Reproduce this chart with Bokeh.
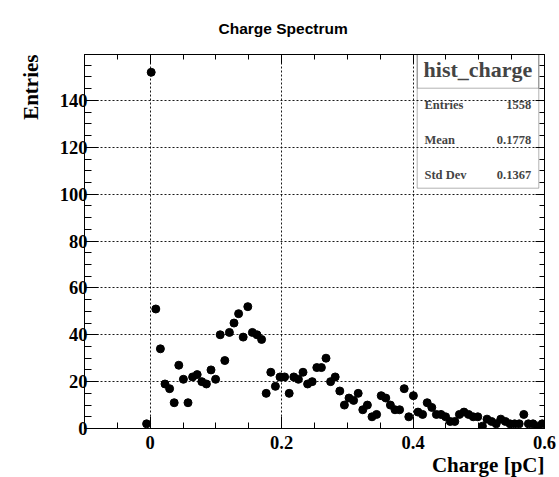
import numpy as np
from bokeh.plotting import figure
from bokeh.models import Label, BoxAnnotation, LinearAxis, FixedTicker, Range1d, Title
from bokeh.embed import file_html
from bokeh.resources import INLINE

# ---- data ----
HIST_LOW = -0.1
HIST_HIGH = 0.6
N_BINS = 100
# counts for bins 0..99 (first 13 bins empty)
counts = [0] * 13 + [
    2, 152, 51, 34, 19, 17, 11, 27, 21, 11,
    22, 23, 20, 19, 25, 21, 40, 29, 41, 45,
    49, 39, 52, 41, 40, 38, 15, 24, 18, 22,
    22, 15, 22, 21, 24, 19, 20, 26, 26, 30,
    20, 22, 16, 10, 13, 12, 15, 8, 10, 5,
    6, 14, 13, 10, 8, 8, 17, 5, 14, 7,
    6, 11, 9, 6, 6, 5, 3, 3, 6, 7,
    6, 5, 5, 1, 4, 3, 2, 4, 3, 2,
    2, 2, 6, 2, 2, 1, 2,
]
x_major = [0.0, 0.2, 0.4, 0.6]
x_minor = [-0.1, -0.05, 0.05, 0.1, 0.15, 0.25, 0.3, 0.35, 0.45, 0.5, 0.55]
y_major = [0, 20, 40, 60, 80, 100, 120, 140]
y_minor = [v for v in range(0, 160, 5) if v % 20 != 0]
title_text = "Charge Spectrum"
x_title = "Charge [pC]"
y_title = "Entries"
stats_name = "hist_charge"
stats_rows = [("Entries", "1558"), ("Mean", "0.1778"), ("Std Dev", "0.1367")]

edges = np.linspace(HIST_LOW, HIST_HIGH, N_BINS + 1)
centers = 0.5 * (edges[:-1] + edges[1:])
cnt = np.array(counts)
mask = cnt > 0
xs = centers[mask]
ys = cnt[mask]

SERIF = "Liberation Serif"
SANS = "Liberation Sans"

p = figure(frame_width=460, frame_height=374, output_backend="svg", toolbar_location=None,
           x_range=Range1d(HIST_LOW, HIST_HIGH), y_range=Range1d(0, max(counts) * 1.05),
           min_border_left=84, min_border_right=15, min_border_top=53, min_border_bottom=50)
p.background_fill_color = "white"
p.border_fill_color = "white"
p.outline_line_color = "black"
p.outline_line_width = 1

ticker_x = FixedTicker(ticks=x_major, minor_ticks=x_minor)
ticker_y = FixedTicker(ticks=y_major, minor_ticks=y_minor)

def style_axis(ax, ticker, labels=True, major_len=12, minor_len=6):
    ax.ticker = ticker
    ax.axis_line_color = "black"
    ax.axis_line_width = 1
    ax.major_tick_in = major_len
    ax.major_tick_out = 0
    ax.minor_tick_in = minor_len
    ax.minor_tick_out = 0
    ax.major_tick_line_color = "black"
    ax.minor_tick_line_color = "black"
    ax.major_tick_line_width = 1
    ax.minor_tick_line_width = 1
    ax.major_label_text_font = SERIF
    ax.major_label_text_font_style = "bold"
    ax.major_label_text_font_size = "18.5px"
    ax.major_label_text_color = "black"
    if not labels:
        ax.major_label_text_alpha = 0
        ax.major_label_text_font_size = "0px"
        ax.major_label_standoff = 0

style_axis(p.xaxis[0], ticker_x, major_len=12, minor_len=6)
style_axis(p.yaxis[0], ticker_y, major_len=14, minor_len=7)
p.xaxis[0].major_label_standoff = 7
p.yaxis[0].major_label_standoff = -3

# mirrored ticks on top / right (frame-like, as ROOT draws)
top_ax = LinearAxis()
style_axis(top_ax, ticker_x, labels=False, major_len=9, minor_len=5)
p.add_layout(top_ax, "above")
right_ax = LinearAxis()
style_axis(right_ax, ticker_y, labels=False, major_len=9, minor_len=5)
p.add_layout(right_ax, "right")

for g, tk in ((p.xgrid[0], ticker_x), (p.ygrid[0], ticker_y)):
    g.ticker = tk
    g.grid_line_color = "black"
    g.grid_line_dash = "2 2"
    g.grid_line_width = 1
    g.grid_line_alpha = 0.9

p.scatter(xs, ys, size=8, color="black", marker="circle")

# title and axis titles (as side-panel titles so they are not clipped)
p.add_layout(Title(text=title_text, align="left", offset=134, standoff=35,
                   text_font=SANS, text_font_style="bold", text_font_size="15.5px",
                   text_color="black"), "above")
p.add_layout(Title(text=y_title, align="right", standoff=28,
                   text_font=SERIF, text_font_style="bold", text_font_size="21px",
                   text_color="black"), "left")
p.add_layout(Title(text=x_title, align="right", standoff=-2,
                   text_font=SERIF, text_font_style="bold", text_font_size="21px",
                   text_color="black"), "below")

# stats box (frame-relative screen units)
box_l, box_r, box_b, box_t, box_sep = 332.7, 454.3, 240.3, 374, 340.3
p.add_layout(BoxAnnotation(left=box_l, right=box_r, bottom=box_b, top=box_t,
                           left_units="screen", right_units="screen",
                           bottom_units="screen", top_units="screen",
                           fill_alpha=0, line_color="black", line_width=1))
p.add_layout(BoxAnnotation(left=box_l, right=box_r, bottom=box_sep, top=box_t,
                           left_units="screen", right_units="screen",
                           bottom_units="screen", top_units="screen",
                           fill_alpha=0, line_color="black", line_width=1))
p.add_layout(Label(x=(box_l + box_r) / 2, y=358.7, x_units="screen", y_units="screen",
                   text=stats_name, text_font=SERIF, text_font_style="bold",
                   text_font_size="22px", text_align="center", text_baseline="middle"))
row_y = [323.7, 288.7, 253.7]
for (name, val), yy in zip(stats_rows, row_y):
    p.add_layout(Label(x=box_l + 7.3, y=yy, x_units="screen", y_units="screen", text=name,
                       text_font=SERIF, text_font_style="bold", text_font_size="12.5px",
                       text_align="left", text_baseline="middle"))
    p.add_layout(Label(x=box_r - 7.6, y=yy, x_units="screen", y_units="screen", text=val,
                       text_font=SERIF, text_font_style="bold", text_font_size="12.5px",
                       text_align="right", text_baseline="middle"))

open("out.html", "w").write(file_html(p, INLINE))
